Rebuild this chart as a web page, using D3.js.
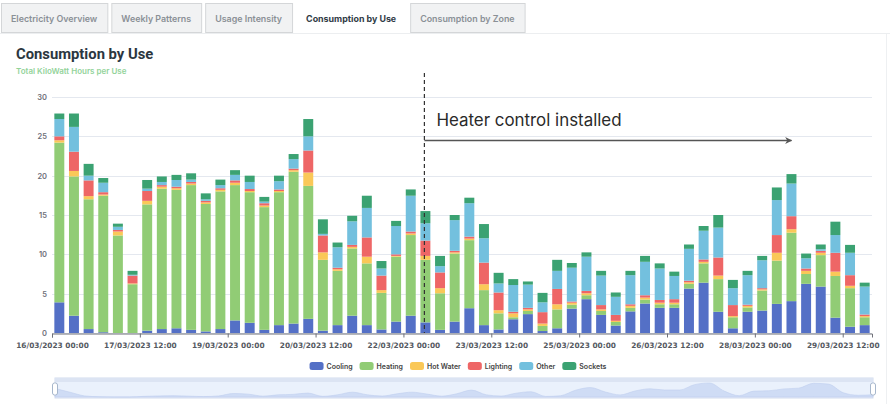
<!DOCTYPE html>
<html>
<head>
<meta charset="utf-8">
<script src="https://cdn.jsdelivr.net/npm/d3@7"></script>
<style>
  body { margin: 0; background: #fff; }
  svg { display: block; font-family: "Inter", "Noto Sans", sans-serif; }
</style>
</head>
<body>
<div id="chart"></div>
<script>
// six-hour bins, 16/03/2023 00:00 -> 29/03/2023 18:00
const seriesNames = ["Cooling", "Heating", "Hot Water", "Lighting", "Other", "Sockets"];
const seriesColors = ["#5470c6", "#91cc75", "#fac858", "#ee6666", "#73c0de", "#3ba272"];

const cooling = [3.9,2.2,0.5,0.1,0,0,0.3,0.5,0.6,0.4,0.2,0.5,1.6,1.3,0.4,1.0,1.2,1.8,
  0.3,1.0,2.2,1.0,0.45,1.45,2.2,1.35,0.4,1.45,3.15,1.0,0.45,1.75,2.4,0.25,0.6,3.1,4.3,
  2.3,0.95,2.75,3.75,3.2,3.2,5.65,6.4,2.7,0.6,2.7,2.85,3.7,4.05,6.25,5.9,1.95,0.8,1.0];
const heating = [20.3,17.7,16.5,17.35,12.4,6.2,16.05,17.85,17.6,18.4,16.2,17.5,17.2,16.6,15.6,16.9,19.3,16.9,
  9.0,6.9,8.55,7.85,4.65,8.25,10.25,7.95,4.65,8.65,8.65,4.45,2.05,0.25,0.4,0.65,2.4,0.5,0.5,
  0.5,0.45,0.45,0.5,0.45,0.45,0.6,2.45,4.15,1.4,0.55,2.55,5.5,8.7,1.25,4.0,5.3,4.9,1.0];
const hotWater = [0.3,0.7,0.4,0.15,0.5,0.1,0.45,0.25,0.2,0.2,0.2,0.2,0.3,0.15,0.2,0.15,0.2,1.7,
  0.95,0.2,0.2,0.85,0.35,0.1,0.2,0.5,0.65,0.15,0.2,0.75,0.4,0.5,0.2,0.3,0.65,0.25,0.25,
  0.2,0.15,0.25,0.25,0.2,0.2,0.2,0.2,0.45,0.15,0.2,0.15,1.0,0.45,0.4,0.3,0.55,0.3,0.15];
const lighting = [0.5,2.45,2.0,0.3,0.2,1.0,1.25,0.2,0.2,0.2,0.2,0.2,0.3,0.25,0.3,0.2,0.2,2.8,
  2.15,0.2,0.25,2.45,1.85,0.2,0.25,1.95,2.0,0.2,0.25,2.75,2.25,0.2,0.2,1.45,1.95,0.15,0.3,
  0.55,0.75,0.2,0.3,0.35,0.45,0.2,0.3,2.3,1.4,0.15,0.15,2.25,1.65,0.3,0.25,2.4,1.35,0.2];
const other = [2.2,3.15,0.6,1.2,0.4,0.1,0.3,0.4,0.85,0.3,0.2,0.4,0.7,0.9,0.2,1.05,1.2,1.8,
  0.2,2.6,3.0,3.75,0.9,3.6,4.55,2.2,0.8,3.9,4.25,3.1,1.15,3.4,2.95,1.25,2.3,4.3,4.35,
  3.75,2.3,3.7,4.25,4.0,2.95,4.05,3.65,3.8,2.15,3.75,3.55,4.45,4.15,1.3,0.2,2.25,2.85,3.55];
const sockets = [0.7,1.7,1.5,0.6,0.4,0.5,1.1,0.7,0.65,0.8,0.75,0.7,0.6,0.8,0.6,0.7,0.65,2.2,
  1.85,0.6,0.7,1.55,0.95,0.65,0.8,1.55,1.3,0.65,0.7,1.8,1.35,0.75,0.4,1.2,1.4,0.6,0.55,
  0.6,0.55,0.55,0.75,0.65,0.55,0.55,0.6,1.6,1.05,0.55,0.55,1.6,1.2,0.6,0.6,1.7,1.0,0.5];

const yTicks = [0, 5, 10, 15, 20, 25, 30];
const tabNames = ["Electricity Overview", "Weekly Patterns", "Usage Intensity", "Consumption by Use", "Consumption by Zone"];
const activeTab = "Consumption by Use";
const annotationText = "Heater control installed";
const annotationStartBin = 25;
const annotationEndBin = 50;

const width = 890, height = 404;
const margin = {top: 97, right: 18, bottom: 71, left: 52};

const start = new Date(2023, 2, 16, 0, 0);
const end = new Date(2023, 2, 30, 0, 0);
const binTimes = cooling.map((d, i) => d3.timeHour.offset(start, 6 * i));
const binCenter = t => d3.timeHour.offset(t, 3);

const rows = binTimes.map((t, i) => ({
  time: t,
  "Cooling": cooling[i], "Heating": heating[i], "Hot Water": hotWater[i],
  "Lighting": lighting[i], "Other": other[i], "Sockets": sockets[i]
}));

const svg = d3.select("#chart").append("svg")
  .attr("width", width)
  .attr("height", height);

// ---- tabs
const tabs = svg.append("g").attr("class", "tabs");
const tabPad = 10;
let tx = 1;
tabNames.forEach(name => {
  const active = name === activeTab;
  const g = tabs.append("g");
  const label = g.append("text")
    .attr("y", 21.5)
    .attr("font-size", 8.9)
    .attr("font-weight", active ? 700 : 600)
    .attr("fill", active ? "#2f3b45" : "#8a9096")
    .text(name);
  const w = label.node().getComputedTextLength() + tabPad * 2;
  g.insert("rect", "text")
    .attr("x", tx + 0.5).attr("y", 3.5)
    .attr("width", w).attr("height", active ? 30 : 29)
    .attr("fill", active ? "#fff" : "#f1f2f3")
    .attr("stroke", active ? "#fff" : "#d4d6d8");
  label.attr("x", tx + tabPad);
  tx += w + 4;
});
svg.append("line")
  .attr("x1", 0).attr("x2", width)
  .attr("y1", 33.5).attr("y2", 33.5)
  .attr("stroke", "#eceef0");
svg.append("line")
  .attr("x1", 886.5).attr("x2", 886.5)
  .attr("y1", 34).attr("y2", height)
  .attr("stroke", "#eef0f2");

// ---- title
svg.append("text")
  .attr("x", 16).attr("y", 59)
  .attr("font-family", "Roboto, sans-serif")
  .attr("font-size", 14.8)
  .attr("font-weight", 700)
  .attr("fill", "#2b3640")
  .text("Consumption by Use");
svg.append("text")
  .attr("x", 16).attr("y", 74)
  .attr("font-size", 8)
  .attr("font-weight", 600)
  .attr("fill", "#93d39a")
  .text("Total KiloWatt Hours per Use");

// ---- scales
const x = d3.scaleTime()
  .domain([start, end])
  .range([margin.left, width - margin.right]);
const y = d3.scaleLinear()
  .domain([0, 30])
  .range([height - margin.bottom, margin.top]);
const binWidth = x(binTimes[1]) - x(binTimes[0]);
const barWidth = binWidth * 0.68;

// ---- grid + y labels
svg.append("g")
  .selectAll("line")
  .data(yTicks)
  .join("line")
  .attr("x1", margin.left).attr("x2", width - margin.right)
  .attr("y1", d => Math.round(y(d)) + 0.5).attr("y2", d => Math.round(y(d)) + 0.5)
  .attr("stroke", "#e4e8ef");

svg.append("g")
  .selectAll("text")
  .data(yTicks)
  .join("text")
  .attr("x", margin.left - 5)
  .attr("y", d => y(d) + 3)
  .attr("text-anchor", "end")
  .attr("font-size", 7.5)
  .attr("font-weight", 600)
  .attr("fill", "#6e7079")
  .text(d => d);

// ---- stacked bars
const stack = d3.stack().keys(seriesNames);
const layers = stack(rows);
const color = d3.scaleOrdinal().domain(seriesNames).range(seriesColors);

svg.append("g")
  .selectAll("g")
  .data(layers)
  .join("g")
  .attr("fill", d => color(d.key))
  .selectAll("rect")
  .data(d => d)
  .join("rect")
  .attr("x", d => x(binCenter(d.data.time)) - barWidth / 2)
  .attr("y", d => y(d[1]))
  .attr("width", barWidth)
  .attr("height", d => Math.max(0, y(d[0]) - y(d[1])));

// ---- x axis
const xTickValues = d3.range(0, 10).map(k => d3.timeHour.offset(start, 36 * k));
const xAxis = d3.axisBottom(x)
  .tickValues(xTickValues)
  .tickSize(4)
  .tickFormat(d3.timeFormat("%d/%m/%Y %H:%M"));
const gx = svg.append("g")
  .attr("transform", `translate(0,${height - margin.bottom + 0.5})`)
  .call(xAxis);
gx.select(".domain").attr("stroke", "#6e7079");
gx.selectAll(".tick line").attr("stroke", "#6e7079");
gx.selectAll(".tick text")
  .attr("dy", "0.95em")
  .attr("font-family", "'DejaVu Sans', sans-serif")
  .attr("font-size", 7.4)
  .attr("font-weight", 700)
  .attr("fill", "#55595f");

// ---- annotation
const annX0 = x(binCenter(binTimes[annotationStartBin])) - 1;
const annX1 = x(binCenter(binTimes[annotationEndBin]));
svg.append("line")
  .attr("x1", annX0).attr("x2", annX0)
  .attr("y1", 73).attr("y2", y(0))
  .attr("stroke", "#333")
  .attr("stroke-width", 1.2)
  .attr("stroke-dasharray", "4,3");

svg.append("defs").append("marker")
  .attr("id", "arrowhead")
  .attr("viewBox", "0 -5 10 10")
  .attr("refX", 9)
  .attr("refY", 0)
  .attr("orient", "auto")
  .attr("markerWidth", 9)
  .attr("markerHeight", 7)
  .attr("markerUnits", "userSpaceOnUse")
  .append("path")
  .attr("d", "M0,-5 L10,0 L0,5 L3,0 Z")
  .attr("fill", "#555");

svg.append("line")
  .attr("x1", annX0).attr("x2", annX1)
  .attr("y1", 140.5).attr("y2", 140.5)
  .attr("stroke", "#555")
  .attr("stroke-width", 1.3)
  .attr("marker-end", "url(#arrowhead)");

svg.append("text")
  .attr("x", annX0 + 12).attr("y", 126)
  .attr("font-size", 16.9)
  .attr("font-weight", 400)
  .attr("fill", "#2a2a2a")
  .text(annotationText);

// ---- legend
const legend = svg.append("g").attr("transform", "translate(0,366)");
let lx = 0;
seriesNames.forEach(name => {
  const g = legend.append("g");
  g.append("rect")
    .attr("x", lx).attr("y", -4)
    .attr("width", 14).attr("height", 8)
    .attr("rx", 2.5)
    .attr("fill", color(name));
  const t = g.append("text")
    .attr("x", lx + 17).attr("y", 2.6)
    .attr("font-size", 7)
    .attr("font-weight", 600)
    .attr("fill", "#444")
    .text(name);
  lx += 17 + t.node().getComputedTextLength() + 7;
});
const legendWidth = lx - 7;
legend.attr("transform", `translate(${458 - legendWidth / 2},366)`);

// ---- data zoom slider (shadow from first series)
const sx0 = 55, sx1 = 873, sy0 = 378, sy1 = 398;
const slider = svg.append("g");
slider.append("rect")
  .attr("x", sx0).attr("y", sy0)
  .attr("width", sx1 - sx0).attr("height", sy1 - sy0)
  .attr("fill", "#eaf1fc")
  .attr("stroke", "#d2dbee");
slider.append("rect")
  .attr("x", sx0).attr("y", sy0)
  .attr("width", sx1 - sx0).attr("height", 4)
  .attr("fill", "#dce4f3");

const sxScale = d3.scaleLinear().domain([0, cooling.length - 1]).range([sx0, sx1]);
const syScale = d3.scaleLinear().domain([0, d3.max(cooling)]).range([sy1 - 1, sy0 + 5]);
const area = d3.area()
  .x((d, i) => sxScale(i))
  .y0(sy1 - 1)
  .y1(d => syScale(d))
  .curve(d3.curveMonotoneX);
slider.append("path")
  .datum(cooling)
  .attr("d", area)
  .attr("fill", "#cfdcf5")
  .attr("stroke", "#bfcfee")
  .attr("stroke-width", 0.6);

[sx0, sx1].forEach(hx => {
  slider.append("rect")
    .attr("x", hx - 2.5).attr("y", sy0 + 5)
    .attr("width", 5).attr("height", 12)
    .attr("rx", 2)
    .attr("fill", "#fff")
    .attr("stroke", "#a7b7cc");
});
</script>
</body>
</html>
